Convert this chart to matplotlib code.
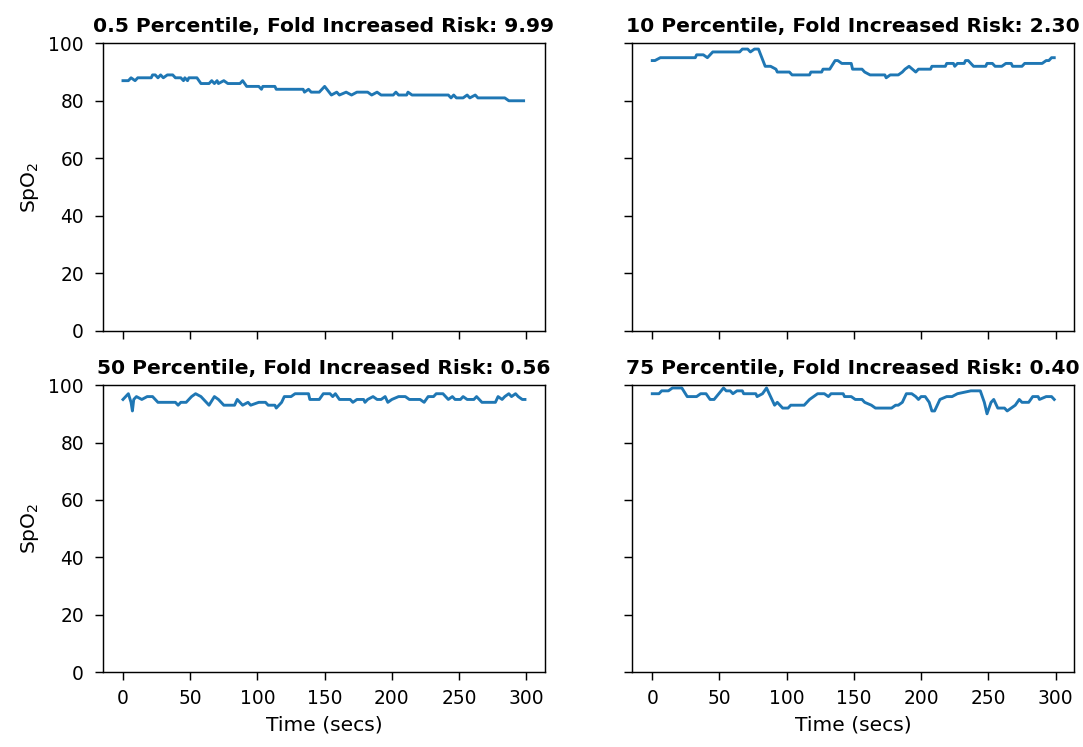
import matplotlib
matplotlib.use("Agg")
import matplotlib.pyplot as plt

# 0.5 percentile
t_p05 = [0, 4, 6, 9, 11, 21, 22, 24, 26, 28,
         30, 33, 37, 39, 43, 45, 46, 48, 49, 55,
         58, 64, 66, 68, 70, 71, 75, 78, 87, 89,
         92, 101, 103, 104, 113, 114, 134, 135, 138, 140,
         146, 150, 155, 159, 161, 166, 170, 174, 182, 185,
         189, 192, 201, 203, 205, 211, 212, 215, 242, 244,
         246, 248, 253, 256, 258, 262, 264, 284, 287, 298]
spo2_p05 = [87, 87, 88, 87, 88, 88, 89, 89, 88, 89,
            88, 89, 89, 88, 88, 87, 88, 87, 88, 88,
            86, 86, 87, 86, 87, 86, 87, 86, 86, 87,
            85, 85, 84, 85, 85, 84, 84, 83, 84, 83,
            83, 85, 82, 83, 82, 83, 82, 83, 83, 82,
            83, 82, 82, 83, 82, 82, 83, 82, 82, 81,
            82, 81, 81, 82, 81, 82, 81, 81, 80, 80]

# 10 percentile
t_p10 = [0, 2, 6, 32, 33, 38, 41, 43, 45, 65,
         67, 71, 73, 76, 79, 84, 88, 92, 93, 102,
         104, 117, 118, 126, 127, 132, 136, 138, 141, 148,
         149, 156, 158, 162, 173, 174, 177, 183, 186, 188,
         191, 196, 198, 207, 208, 218, 219, 224, 225, 227,
         232, 233, 235, 239, 248, 249, 253, 255, 260, 263,
         267, 268, 275, 277, 290, 293, 295, 297, 299]
spo2_p10 = [94, 94, 95, 95, 96, 96, 95, 96, 97, 97,
            98, 98, 97, 98, 98, 92, 92, 91, 90, 90,
            89, 89, 90, 90, 91, 91, 94, 94, 93, 93,
            91, 91, 90, 89, 89, 88, 89, 89, 90, 91,
            92, 90, 91, 91, 92, 92, 93, 93, 92, 93,
            93, 94, 94, 92, 92, 93, 93, 92, 92, 93,
            93, 92, 92, 93, 93, 94, 94, 95, 95]

# 50 percentile
t_p50 = [0, 2, 4, 6, 7, 8, 10, 14, 18, 22,
         26, 39, 41, 43, 47, 51, 54, 58, 62, 64,
         68, 71, 75, 83, 85, 89, 93, 95, 101, 106,
         108, 113, 114, 118, 120, 125, 128, 138, 139, 146,
         149, 154, 156, 158, 161, 169, 171, 174, 179, 180,
         182, 186, 189, 192, 195, 197, 200, 205, 210, 213,
         221, 224, 227, 231, 233, 238, 242, 245, 247, 251,
         253, 256, 261, 263, 267, 277, 279, 282, 284, 287,
         289, 292, 294, 297, 299]
spo2_p50 = [95, 96, 97, 94, 91, 95, 96, 95, 96, 96,
            94, 94, 93, 94, 94, 96, 97, 96, 94, 93,
            96, 95, 93, 93, 95, 93, 94, 93, 94, 94,
            93, 93, 92, 94, 96, 96, 97, 97, 95, 95,
            97, 97, 96, 97, 95, 95, 94, 95, 95, 94,
            95, 96, 95, 95, 96, 94, 95, 96, 96, 95,
            95, 94, 96, 96, 97, 97, 95, 96, 95, 95,
            96, 95, 95, 96, 94, 94, 96, 95, 96, 97,
            96, 97, 96, 95, 95]

# 75 percentile
t_p75 = [0, 5, 7, 12, 15, 22, 26, 33, 36, 40,
         43, 46, 53, 55, 58, 60, 63, 67, 68, 77,
         78, 82, 85, 91, 93, 97, 101, 103, 113, 117,
         123, 128, 131, 133, 142, 143, 148, 151, 156, 158,
         163, 166, 178, 181, 183, 186, 189, 193, 196, 198,
         200, 203, 206, 208, 210, 214, 219, 223, 227, 237,
         244, 247, 249, 252, 254, 257, 262, 264, 267, 270,
         273, 275, 280, 283, 287, 288, 293, 297, 299]
spo2_p75 = [97, 97, 98, 98, 99, 99, 96, 96, 97, 97,
            95, 95, 99, 98, 98, 97, 98, 98, 97, 97,
            96, 97, 99, 93, 94, 92, 92, 93, 93, 95,
            97, 97, 96, 97, 97, 96, 96, 95, 95, 94,
            93, 92, 92, 93, 93, 94, 97, 97, 96, 95,
            96, 96, 94, 91, 91, 95, 96, 96, 97, 98,
            98, 94, 90, 94, 95, 92, 92, 91, 92, 93,
            95, 94, 94, 96, 96, 95, 96, 96, 95]

titles = ["0.5 Percentile, Fold Increased Risk: 9.99",
          "10 Percentile, Fold Increased Risk: 2.30",
          "50 Percentile, Fold Increased Risk: 0.56",
          "75 Percentile, Fold Increased Risk: 0.40"]
series = [(t_p05, spo2_p05), (t_p10, spo2_p10),
          (t_p50, spo2_p50), (t_p75, spo2_p75)]


def plot_panels():
    fig, axes = plt.subplots(2, 2, sharex=True, sharey=True,
                             figsize=(1083 / 130, 747 / 130), dpi=130)
    fig.subplots_adjust(left=0.095, right=0.992, top=0.942, bottom=0.100,
                        wspace=0.197, hspace=0.19)

    for ax, title, (t, v) in zip(axes.flat, titles, series):
        ax.plot(t, v, color='#1f77b4', linewidth=1.6)
        ax.set_title(title, fontsize=11.2, fontweight='bold')
        ax.set_ylim(0, 100)
        ax.set_yticks([0, 20, 40, 60, 80, 100])
        ax.tick_params(axis='y', length=4.5, pad=6, labelsize=10.3)
        ax.tick_params(axis='x', length=4.5, pad=5, labelsize=10.3)

    for ax in axes[:, 0]:
        ax.set_ylabel('SpO$_2$', fontsize=11.2)
    for ax in axes[1, :]:
        ax.set_xlabel('Time (secs)', fontsize=11.2)
        ax.set_xticks([0, 50, 100, 150, 200, 250, 300])

    fig.savefig('out.png', dpi=130)


if __name__ == "__main__":
    plot_panels()
